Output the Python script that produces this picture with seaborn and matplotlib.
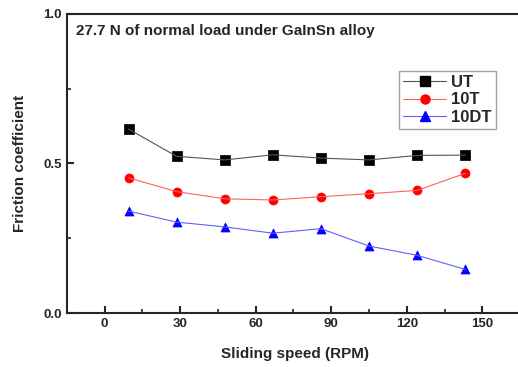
import matplotlib
matplotlib.use('Agg')
import matplotlib.pyplot as plt
import pandas as pd
import seaborn as sns
from matplotlib.lines import Line2D

speed = [9.5, 28.6, 47.7, 66.8, 85.9, 105.0, 124.1, 143.2]
ut = [0.615, 0.524, 0.512, 0.529, 0.518, 0.512, 0.527, 0.528]
t10 = [0.452, 0.406, 0.382, 0.378, 0.389, 0.399, 0.410, 0.467]
dt10 = [0.341, 0.304, 0.288, 0.267, 0.282, 0.224, 0.193, 0.146]
series = ['UT', '10T', '10DT']

df = pd.DataFrame({
    'speed': speed * 3,
    'mu': ut + t10 + dt10,
    'sample': sum([[s] * len(speed) for s in series], []),
})

sns.set_style('ticks')
plt.rcParams['font.family'] = ['Liberation Sans', 'DejaVu Sans']
plt.rcParams['font.weight'] = 'bold'
plt.rcParams['axes.labelweight'] = 'bold'
plt.rcParams['xtick.direction'] = 'in'
plt.rcParams['ytick.direction'] = 'in'

fig = plt.figure(figsize=(5.18, 3.67), dpi=100)
ax = fig.add_axes([0.129, 0.147, 0.88, 0.815])

palette = {'UT': 'black', '10T': 'red', '10DT': 'blue'}
markers = {'UT': 's', '10T': 'o', '10DT': '^'}
line_cols = {'UT': '#555555', '10T': '#ff6060', '10DT': '#6060ff'}

for s in series:
    sub = df[df['sample'] == s]
    sns.lineplot(data=sub, x='speed', y='mu', ax=ax, color=line_cols[s], lw=0.8,
                 legend=False)
    sns.scatterplot(data=sub, x='speed', y='mu', ax=ax, color=palette[s],
                    marker=markers[s], s=42, edgecolor=palette[s], legend=False)

handles = [Line2D([], [], color=line_cols[s], lw=0.8, marker=markers[s],
                  markerfacecolor=palette[s], markeredgecolor=palette[s], markersize=6.5)
           for s in series]
leg = ax.legend(handles, series, loc='upper left', bbox_to_anchor=(0.728, 0.81),
                frameon=True, fancybox=False, prop={'weight': 'bold', 'size': 12},
                handlelength=2.6, handletextpad=0.3, labelspacing=0.15, borderpad=0.25,
                borderaxespad=0)
leg.get_frame().set_edgecolor('#888888')
leg.get_frame().set_linewidth(1.0)

ax.set_xlim(-15, 166)
ax.set_ylim(0, 1.0)
ax.set_xticks([0, 30, 60, 90, 120, 150])
ax.set_xticks([15, 45, 75, 105, 135], minor=True)
ax.set_yticks([0.0, 0.5, 1.0])
ax.set_yticks([0.25, 0.75], minor=True)
ax.tick_params(which='major', length=5, width=1.5, labelsize=9.5)
ax.tick_params(which='minor', length=3, width=1.2)
for sp in ax.spines.values():
    sp.set_linewidth(1.5)

ax.set_xlabel('Sliding speed (RPM)', fontsize=11, labelpad=12)
ax.set_ylabel('Friction coefficient', fontsize=11, labelpad=12)
ax.text(0.02, 0.965, '27.7 N of normal load under GaInSn alloy', transform=ax.transAxes,
        fontsize=11, fontweight='bold', va='top', ha='left')

fig.savefig('out.png', dpi=100)
